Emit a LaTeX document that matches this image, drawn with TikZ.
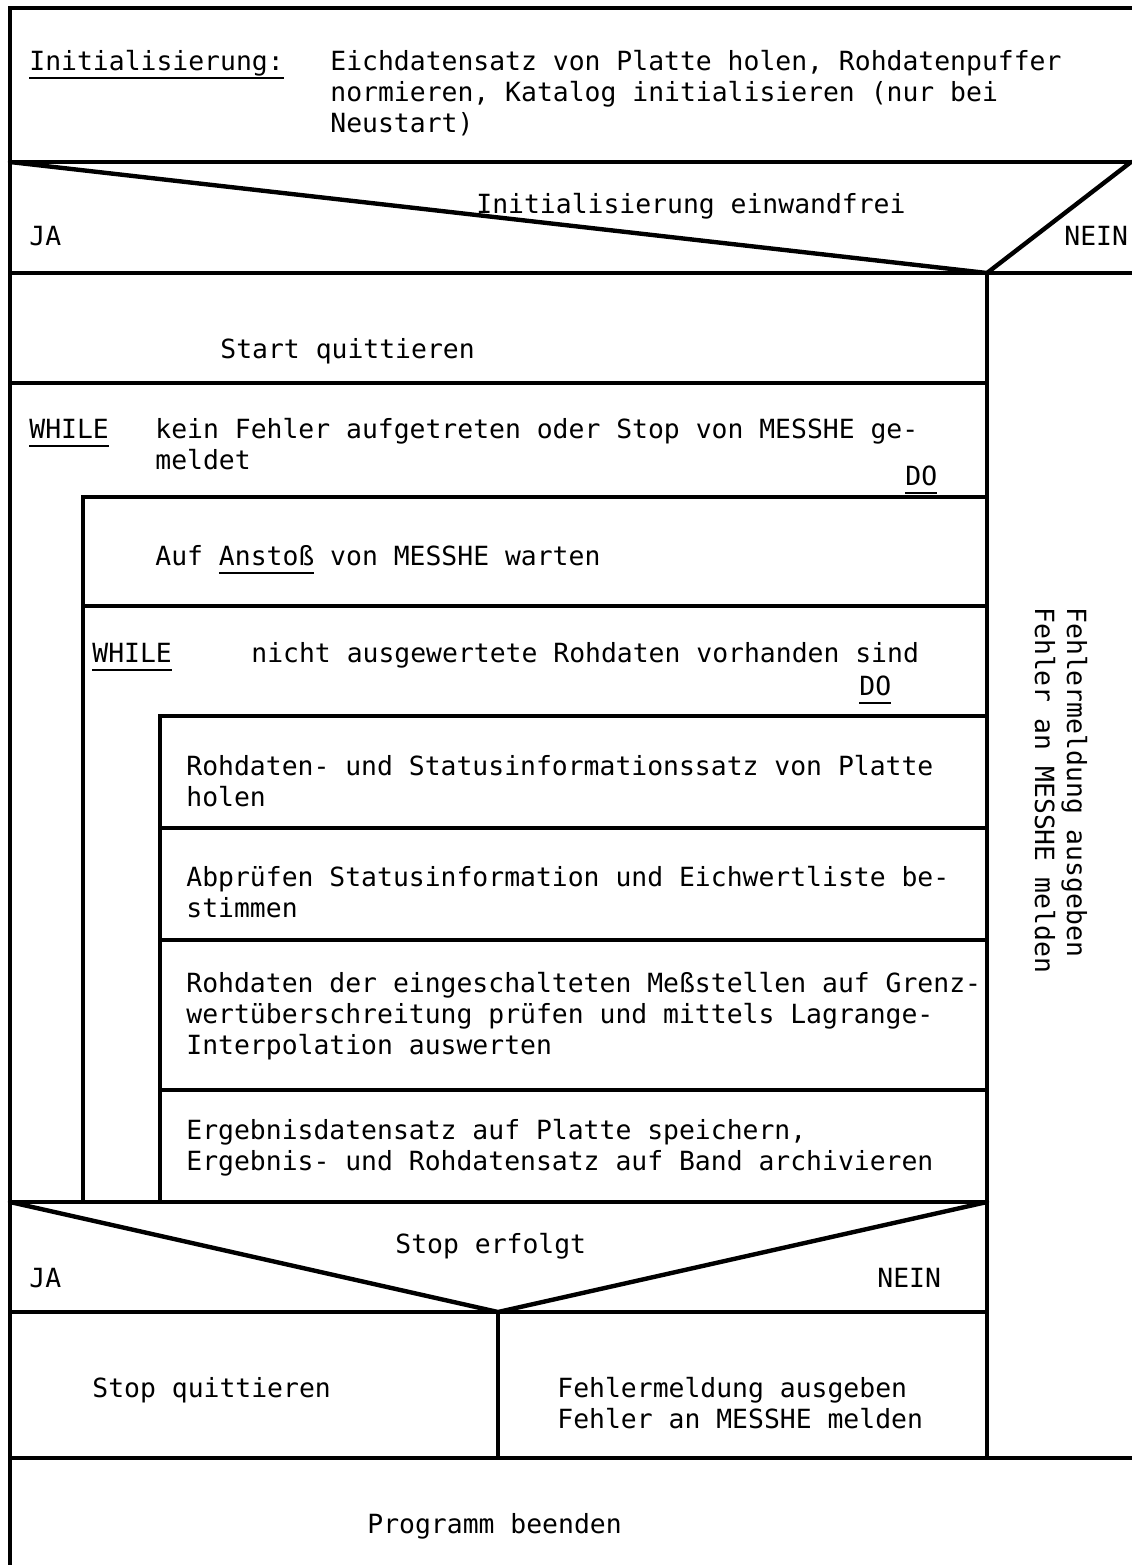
\documentclass[tikz,border=0pt]{standalone}
\usepackage{fontspec}
\setmonofont{DejaVu Sans Mono}
\tikzstyle{linie} = [line width=1.8pt, line cap=rect]
\tikzstyle{schraeg} = [line width=2.2pt, line cap=round]
% base liegt bei mehrzeiligen Knoten auf der letzten Zeile
\tikzstyle{beschr} = [
  font=\ttfamily\fontsize{13.2}{15.5}\selectfont,
  inner sep=0pt,
  anchor=base west,
  align=left,
]
\newcommand{\unterstr}[1]{\setbox0\hbox{#1}\rlap{\rule[-4.5pt]{\wd0}{0.9pt}}#1}

\begin{document}
\begin{tikzpicture}[x=0.5pt, y=-0.5pt]
            \useasboundingbox (0,0) rectangle (1131,1565);
            \def\xL{10}
            \def\xR{987}
            \def\xE{1131}

            \coordinate (OL) at (\xL,8);
            \coordinate (E1) at (\xR,273);
            \coordinate (E2) at (498,1312);

            % Rahmen
            \draw[linie] (\xE,8) -- (OL) -- (\xL,1580);
            \draw[linie] (\xL,162) -- (\xE,162);
            \draw[linie] (\xL,273) -- (\xE,273);
            \draw[linie] (\xL,1458) -- (\xE,1458);
            \draw[linie] (E1) -- (\xR,1458);

            % Bloecke
            \draw[linie] (\xL,383) -- (\xR,383);
            \draw[linie] (83,497) -- (\xR,497);
            \draw[linie] (83,497) -- (83,1202);
            \draw[linie] (83,606) -- (\xR,606);
            \draw[linie] (160,716) -- (\xR,716);
            \draw[linie] (160,716) -- (160,1202);
            \draw[linie] (160,828) -- (\xR,828);
            \draw[linie] (160,940) -- (\xR,940);
            \draw[linie] (160,1090) -- (\xR,1090);
            \draw[linie] (\xL,1202) -- (\xR,1202);
            \draw[linie] (\xL,1312) -- (\xR,1312);
            \draw[linie] (E2) -- (498,1458);

            % Verzweigungen
            \draw[schraeg] (\xL,162) -- (E1) -- (\xE,162);
            \draw[schraeg] (\xL,1202) -- (E2) -- (\xR,1202);

            % Texte
            \node[beschr] (init) at (29,70) {\unterstr{Initialisierung:}};
            \node[beschr] (inittxt) at (330,132) {Eichdatensatz von Platte holen, Rohdatenpuffer\\normieren, Katalog initialisieren (nur bei\\Neustart)};
            \node[beschr] (frage1) at (476,213) {Initialisierung einwandfrei};
            \node[beschr] (ja1) at (29,245) {JA};
            \node[beschr] (nein1) at (1064,245) {NEIN};
            \node[beschr] (start) at (220,358) {Start quittieren};
            \node[beschr] (while1) at (29,438) {\unterstr{WHILE}};
            \node[beschr] (bed1) at (155,469) {kein Fehler aufgetreten oder Stop von MESSHE ge-\\meldet};
            \node[beschr] (do1) at (905,485) {\unterstr{DO}};
            \node[beschr] (anstoss) at (155,565) {Auf \unterstr{Anstoß} von MESSHE warten};
            \node[beschr] (while2) at (92,662) {\unterstr{WHILE}};
            \node[beschr] (bed2) at (251,662) {nicht ausgewertete Rohdaten vorhanden sind};
            \node[beschr] (do2) at (859,695) {\unterstr{DO}};
            \node[beschr] (holen) at (186,806) {Rohdaten- und Statusinformationssatz von Platte\\holen};
            \node[beschr] (pruefen) at (186,917) {Abprüfen Statusinformation und Eichwertliste be-\\stimmen};
            \node[beschr] (auswerten) at (186,1054) {Rohdaten der eingeschalteten Meßstellen auf Grenz-\\wertüberschreitung prüfen und mittels Lagrange-\\Interpolation auswerten};
            \node[beschr] (speichern) at (186,1170) {Ergebnisdatensatz auf Platte speichern,\\Ergebnis- und Rohdatensatz auf Band archivieren};
            \node[beschr] (frage2) at (395,1253) {Stop erfolgt};
            \node[beschr] (ja2) at (29,1287) {JA};
            \node[beschr] (nein2) at (877,1287) {NEIN};
            \node[beschr] (stopq) at (92,1397) {Stop quittieren};
            \node[beschr] (fehler) at (557,1428) {Fehlermeldung ausgeben\\Fehler an MESSHE melden};
            \node[beschr] (ende) at (367,1533) {Programm beenden};

            % Fehlerzweig (senkrecht)
            \node[beschr, rotate=-90] (fehlerA) at (1067,607) {Fehlermeldung ausgeben};
            \node[beschr, rotate=-90] (fehlerB) at (1035,607) {Fehler an MESSHE melden};
          \end{tikzpicture}
\end{document}
